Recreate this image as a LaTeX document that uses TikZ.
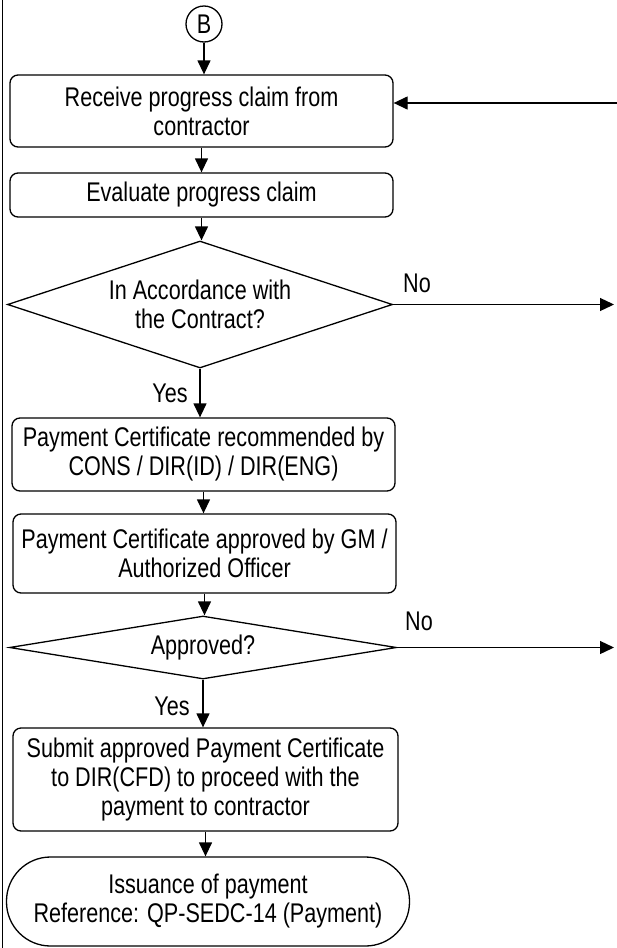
\documentclass[tikz,border=0pt]{standalone}
\usepackage{fontspec}
\setmainfont{Liberation Sans}[FakeStretch=0.8]
\usetikzlibrary{shapes.geometric,arrows.meta}
\begin{document}
\begin{tikzpicture}[x=1pt,y=1pt,
  every node/.style={font=\fontsize{27}{29}\selectfont},
  proc/.style={draw, rounded corners=8pt, line width=1.3pt, align=center, inner sep=0pt},
  decision/.style={draw, diamond, line width=1.3pt, inner sep=0pt, align=center},
  term/.style={draw, rounded corners=44pt, line width=1.3pt, align=center, inner sep=0pt},
  conn/.style={line width=1.3pt, -{Triangle[length=14pt,width=13pt]}},
  lbl/.style={inner sep=0pt},
]
\useasboundingbox (0,0) rectangle (617,-948);

% page margin rule
\draw[line width=1.8pt] (2.5,0) -- (2.5,-948);

% connector entry point
\node[circle, draw, line width=1.3pt, minimum size=36pt, inner sep=0pt] (B) at (204,-24) {B};

% process steps
\node[proc, minimum width=383pt, minimum height=72pt] (recv) at (201.5,-111)
  {Receive progress claim from\\contractor};
\node[proc, minimum width=383pt, minimum height=44pt] (eval) at (201.5,-195)
  {Evaluate progress claim};
\node[decision, minimum width=385pt, minimum height=127pt, shape aspect=3.03] (acc) at (200,-304.5)
  {In Accordance with\\the Contract?};
\node[proc, minimum width=383pt, minimum height=73pt] (rec) at (203.5,-454.5)
  {Payment Certificate recommended by\\CONS / DIR(ID) / DIR(ENG)};
\node[proc, minimum width=383pt, minimum height=79pt] (appr) at (204.5,-553.5)
  {Payment Certificate approved by GM /\\Authorized Officer};
\node[decision, minimum width=387pt, minimum height=63pt, shape aspect=6.14] (ok) at (203,-647.5)
  {Approved?};
\node[proc, minimum width=385pt, minimum height=103pt] (sub) at (205.5,-779.5)
  {Submit approved Payment Certificate\\to DIR(CFD) to proceed with the\\payment to contractor};
\node[term, minimum width=403pt, minimum height=89pt] (pay) at (208,-901.5)
  {Issuance of payment\\Reference: QP-SEDC-14 (Payment)};

% free ends of the side connectors
\coordinate (back) at (617,-103);
\coordinate (noA) at (614,-304.5);
\coordinate (noB) at (614,-647.5);

% main flow
\draw[conn] (B.south) -- (B.south |- recv.north);
\draw[conn] (recv.south) -- (recv.south |- eval.north);
\draw[conn] (eval.south) -- (eval.south |- acc.north);
\draw[conn] (acc.south) -- (acc.south |- rec.north);
\draw[conn] (rec.south) -- (rec.south |- appr.north);
\draw[conn] (appr.south) -- (appr.south |- ok.north);
\draw[conn] (ok.south) -- (ok.south |- sub.north);
\draw[conn] (sub.south) -- (sub.south |- pay.north);

% side connectors
\draw[conn] (back) -- (back -| recv.east);
\draw[conn] (acc.east) -- (noA);
\draw[conn] (ok.east) -- (noB);

% branch labels
\node[lbl] (noAl) at (417,-283) {No};
\node[lbl] (yesA) at (170,-393) {Yes};
\node[lbl] (noBl) at (419,-621) {No};
\node[lbl] (yesB) at (172,-706) {Yes};
\end{tikzpicture}
\end{document}
